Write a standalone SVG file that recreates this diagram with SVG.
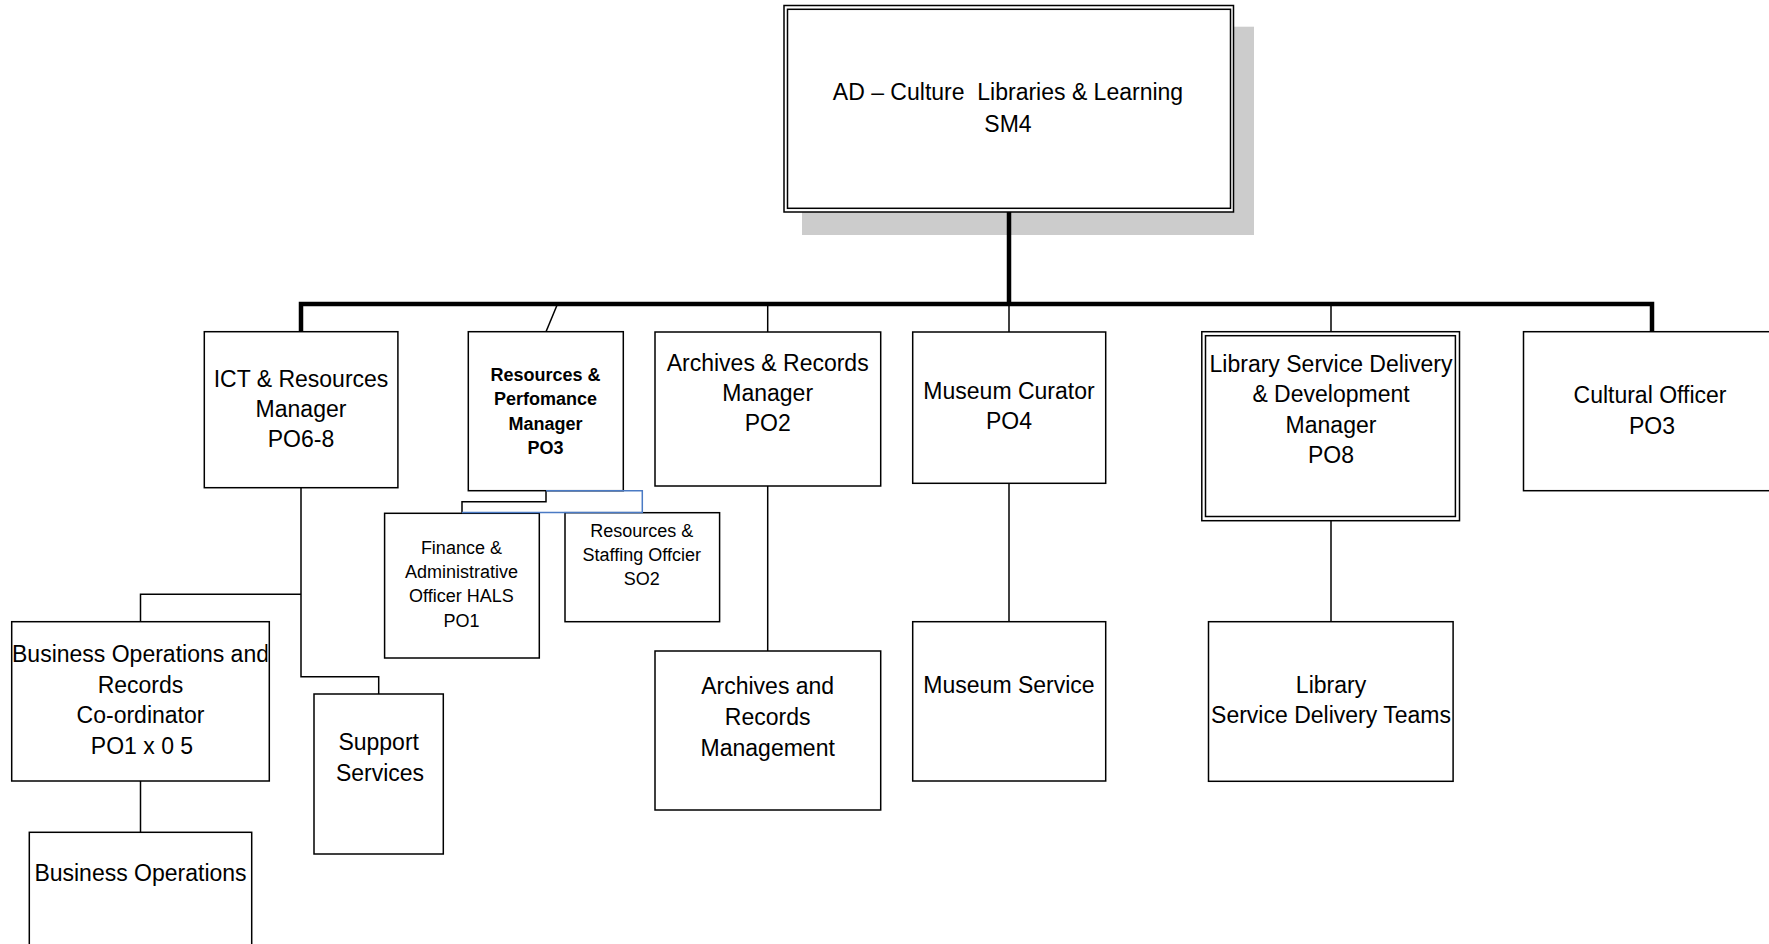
<svg xmlns="http://www.w3.org/2000/svg" width="1769" height="944" viewBox="0 0 1769 944">
<style>
.box{fill:#ffffff;stroke:#000000;stroke-width:1.5}
.t{font-family:"Liberation Sans",Arial,sans-serif;font-size:23px;fill:#000000;text-anchor:middle}
.s{font-family:"Liberation Sans",Arial,sans-serif;font-size:18px;fill:#000000;text-anchor:middle}
.b{font-family:"Liberation Sans",Arial,sans-serif;font-size:18px;font-weight:bold;fill:#000000;text-anchor:middle}
.thin{fill:none;stroke:#000000;stroke-width:1.5}
.thick{fill:none;stroke:#000000;stroke-width:4.5}
.blue{fill:none;stroke:#4a7ac4;stroke-width:1.5}
</style>
<defs>
<clipPath id="clipBiz"><rect x="12.5" y="622.5" width="255" height="158"/></clipPath>
<clipPath id="clipLib"><rect x="1206.3" y="336.5" width="248.3" height="179"/></clipPath>
</defs>
<rect width="1769" height="944" fill="#ffffff"/>

<g id="node-ad">
<rect x="802" y="26.7" width="452" height="208.3" fill="#cccccc"/>
<rect class="box" x="784" y="5.5" width="449.5" height="206.5"/>
<rect class="box" x="787.5" y="9.3" width="443" height="199"/>
<text class="t" x="1008" y="100" xml:space="preserve">AD – Culture  Libraries &amp; Learning</text>
<text class="t" x="1008" y="131.7">SM4</text>
</g>

<g id="node-ict">
<rect class="box" x="204.3" y="331.7" width="193.6" height="156"/>
<text class="t" x="301" y="386.7">ICT &amp; Resources</text>
<text class="t" x="301" y="416.7">Manager</text>
<text class="t" x="301" y="446.7">PO6-8</text>
</g>

<g id="node-resperf">
<rect class="box" x="468.3" y="331.7" width="155" height="159"/>
<text class="b" x="545.5" y="380.5">Resources &amp;</text>
<text class="b" x="545.5" y="404.8">Perfomance</text>
<text class="b" x="545.5" y="429.5">Manager</text>
<text class="b" x="545.5" y="453.7">PO3</text>
</g>

<g id="node-archives">
<rect class="box" x="655" y="332" width="225.7" height="154"/>
<text class="t" x="767.7" y="370.7">Archives &amp; Records</text>
<text class="t" x="767.7" y="400.7">Manager</text>
<text class="t" x="767.7" y="431">PO2</text>
</g>

<g id="node-museum">
<rect class="box" x="912.7" y="332" width="193" height="151.3"/>
<text class="t" x="1009" y="399">Museum Curator</text>
<text class="t" x="1009" y="429.3">PO4</text>
</g>

<g id="node-library">
<rect class="box" x="1201.8" y="331.7" width="257.7" height="189"/>
<rect class="box" x="1205.5" y="335.7" width="249.9" height="180.8"/>
<g clip-path="url(#clipLib)">
<text class="t" x="1331" y="371.7">Library Service Delivery</text>
<text class="t" x="1331" y="402.3">&amp; Development</text>
<text class="t" x="1331" y="432.7">Manager</text>
<text class="t" x="1331" y="463.3">PO8</text>
</g>
</g>

<g id="node-cultural">
<rect class="box" x="1523.5" y="331.7" width="260" height="159"/>
<text class="t" x="1650" y="403.3">Cultural Officer</text>
<text class="t" x="1652" y="434">PO3</text>
</g>

<g id="node-finance">
<rect class="box" x="384.6" y="513.3" width="154.7" height="144.7"/>
<text class="s" x="461.4" y="554">Finance &amp;</text>
<text class="s" x="461.4" y="578.3">Administrative</text>
<text class="s" x="461.4" y="602.3">Officer HALS</text>
<text class="s" x="461.4" y="626.7">PO1</text>
</g>

<g id="node-resstaff">
<rect class="box" x="565" y="512.7" width="154.6" height="109"/>
<text class="s" x="641.8" y="536.7">Resources &amp;</text>
<text class="s" x="641.8" y="560.7">Staffing Offcier</text>
<text class="s" x="641.8" y="585">SO2</text>
</g>

<g id="node-bizops">
<rect class="box" x="11.7" y="621.7" width="257.6" height="159.3"/>
<g clip-path="url(#clipBiz)">
<text class="t" x="140.5" y="661.7">Business Operations and</text>
<text class="t" x="140.5" y="692.7">Records</text>
<text class="t" x="140.5" y="723.3">Co-ordinator</text>
<text class="t" x="142" y="754.3">PO1 x 0 5</text>
</g>
</g>

<g id="node-support">
<rect class="box" x="314" y="694" width="129.3" height="160"/>
<text class="t" x="378.7" y="750">Support</text>
<text class="t" x="380" y="780.7">Services</text>
</g>

<g id="node-bizoperations">
<rect class="box" x="29.3" y="832.3" width="222.4" height="130"/>
<text class="t" x="140.5" y="880.7">Business Operations</text>
</g>

<g id="node-archmgmt">
<rect class="box" x="655" y="651" width="225.7" height="159"/>
<text class="t" x="767.7" y="694">Archives and</text>
<text class="t" x="767.7" y="725">Records</text>
<text class="t" x="767.7" y="756">Management</text>
</g>

<g id="node-museumservice">
<rect class="box" x="912.7" y="621.7" width="193" height="159.3"/>
<text class="t" x="1009" y="693.3">Museum Service</text>
</g>

<g id="node-teams">
<rect class="box" x="1208.5" y="621.7" width="244.6" height="159.6"/>
<text class="t" x="1331" y="693.3">Library</text>
<text class="t" x="1331" y="723.3">Service Delivery Teams</text>
</g>

<g id="connectors">
<path class="thick" d="M1009 212 V304"/>
<path class="thick" d="M301 331.7 V304 H1652 V331.7"/>
<path class="thin" d="M767.7 304 V332"/>
<path class="thin" d="M1009 304 V332"/>
<path class="thin" d="M1331 304 V331.7"/>
<path class="thin" d="M557.5 304 L546 331.7"/>
<path class="thin" d="M301 487.7 V676.7 H378.7 V694"/>
<path class="thin" d="M301 594.3 H140.5 V621.7"/>
<path class="thin" d="M140.5 781 V832.3"/>
<path class="thin" d="M546 490.7 V501.7 H462 V512.7"/>
<path class="blue" d="M546 490.7 H642.3 V512.5 H462"/>
<path class="thin" d="M767.7 486 V651"/>
<path class="thin" d="M1009 483.3 V621.7"/>
<path class="thin" d="M1331 520.7 V621.7"/>
</g>
</svg>
